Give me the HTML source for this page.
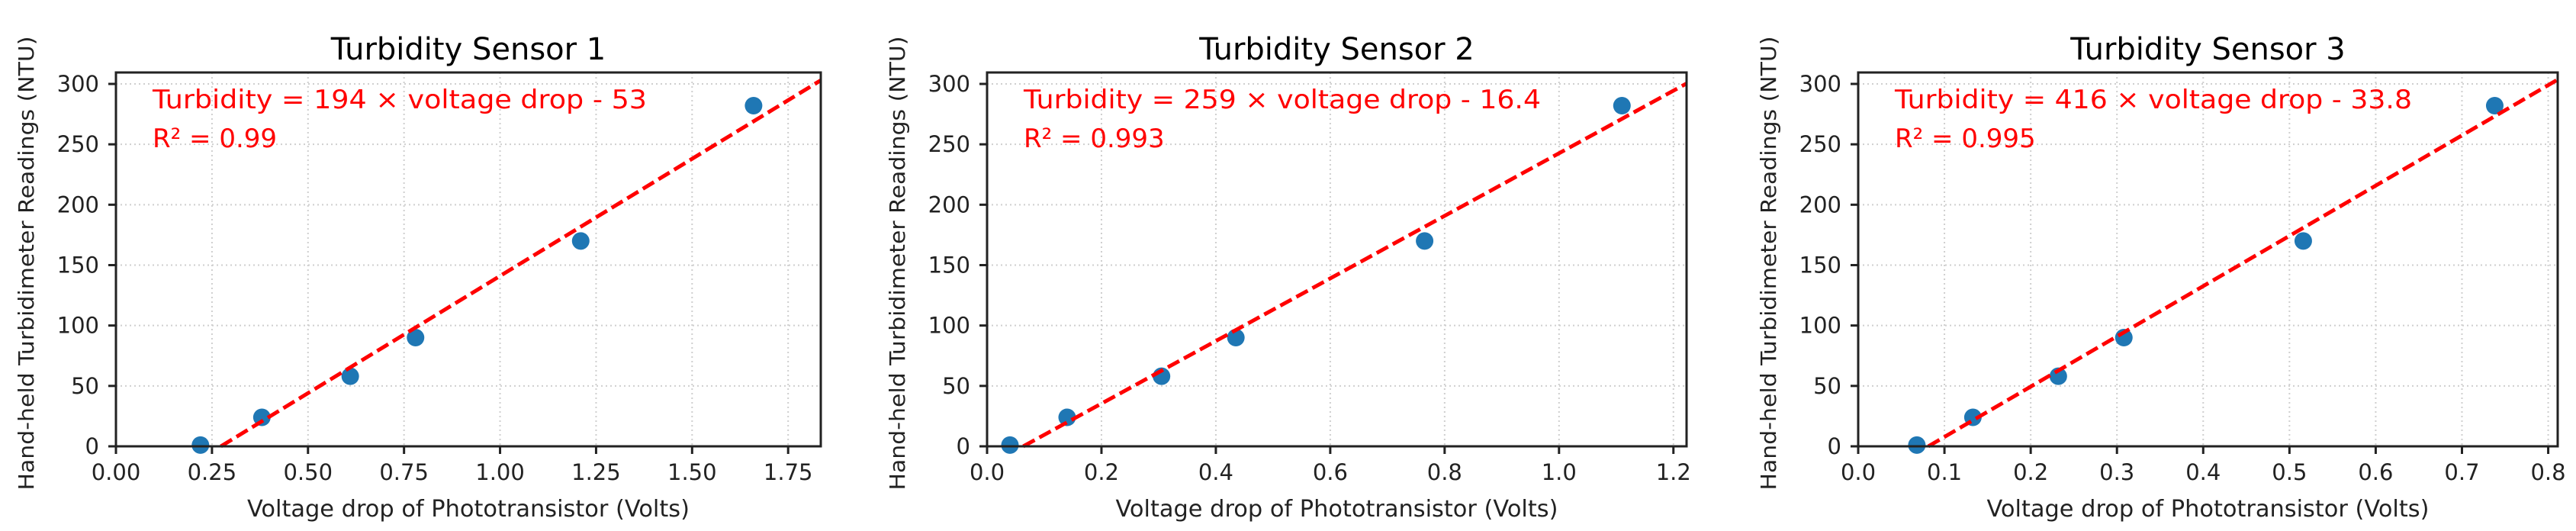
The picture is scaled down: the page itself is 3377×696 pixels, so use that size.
<!DOCTYPE html>
<html><head><meta charset="utf-8"><style>
html,body{margin:0;padding:0;background:#fff}
svg{display:block}
text{font-family:"DejaVu Sans","Liberation Sans",sans-serif}
</style></head><body>
<svg id="fig" width="3377" height="696" viewBox="0 0 3377 696" xmlns="http://www.w3.org/2000/svg"></svg>
<script>
const titles = ["Turbidity Sensor 1","Turbidity Sensor 2","Turbidity Sensor 3"];
const yValues = [1, 24, 58, 90, 170, 282];
const xValues1 = [0.22, 0.38, 0.61, 0.78, 1.21, 1.66];
const xValues2 = [0.04, 0.14, 0.305, 0.435, 0.765, 1.11];
const xValues3 = [0.068, 0.133, 0.232, 0.308, 0.516, 0.738];
const slopes = [194, 259, 416];
const intercepts = [-53, -16.4, -33.8];
const r2Labels = ["0.99","0.993","0.995"];
const eqLabels = ["Turbidity = 194 × voltage drop - 53","Turbidity = 259 × voltage drop - 16.4","Turbidity = 416 × voltage drop - 33.8"];
const xTicks1 = [0,0.25,0.5,0.75,1.0,1.25,1.5,1.75];
const xTickLabels1 = ["0.00","0.25","0.50","0.75","1.00","1.25","1.50","1.75"];
const xTicks2 = [0,0.2,0.4,0.6,0.8,1.0,1.2];
const xTickLabels2 = ["0.0","0.2","0.4","0.6","0.8","1.0","1.2"];
const xTicks3 = [0,0.1,0.2,0.3,0.4,0.5,0.6,0.7,0.8];
const xTickLabels3 = ["0.0","0.1","0.2","0.3","0.4","0.5","0.6","0.7","0.8"];
const yTicks = [0,50,100,150,200,250,300];
const yTickLabels = ["0","50","100","150","200","250","300"];
const xMaxes = [1.835, 1.223, 0.811];

const NS="http://www.w3.org/2000/svg";
const svg=document.getElementById('fig');
function mk(tag,attrs,parent){const e=document.createElementNS(NS,tag);for(const k in attrs)e.setAttribute(k,attrs[k]);(parent||svg).appendChild(e);return e;}

const panels=[
 {L:152,R:1076,xs:xValues1,ticks:xTicks1,labs:xTickLabels1,eqW:648,r2W:245},
 {L:1294,R:2211,xs:xValues2,ticks:xTicks2,labs:xTickLabels2,eqW:678,r2W:195},
 {L:2436,R:3353,xs:xValues3,ticks:xTicks3,labs:xTickLabels3,eqW:678,r2W:195}
];
const TOP=95, Y0=585, Y300=110;
const ymax = 300 + (Y300-TOP)/((Y0-Y300)/300);
panels.forEach((p,i)=>{
  const g=mk('g',{});
  
  
  const xs=v=>p.L+(v/xMaxes[i])*(p.R-p.L);
  const ys=v=>Y0-(v/ymax)*(Y0-TOP);
  p.ticks.forEach(t=>{const l=mk('line',{x1:xs(t),x2:xs(t),y1:TOP,y2:Y0,stroke:'#cfcfcf','stroke-width':2,'stroke-dasharray':'2 4'},g);
    });
  yTicks.forEach(t=>{const l=mk('line',{x1:p.L,x2:p.R,y1:ys(t),y2:ys(t),stroke:'#cfcfcf','stroke-width':2,'stroke-dasharray':'2 4'},g);
    });
  const z=mk('line',{x1:p.L,x2:p.R,y1:ys(0),y2:ys(0),stroke:'#444','stroke-width':2.5,'stroke-dasharray':'10 4'},g);
  
  p.xs.forEach((x,k)=>{const c=mk('circle',{cx:xs(x),cy:ys(yValues[k]),r:11.5,fill:'#1f77b4'},g);
    });
  const x0=Math.max(0,-intercepts[i]/slopes[i]);
  const x1=xMaxes[i];
  const fl=mk('line',{x1:xs(x0),y1:ys(slopes[i]*x0+intercepts[i]),x2:xs(x1),y2:ys(slopes[i]*x1+intercepts[i]),stroke:'#ff0000','stroke-width':5,'stroke-dasharray':'17 7'},g);
  
  const fr=mk('rect',{x:p.L,y:TOP,width:p.R-p.L,height:Y0-TOP,fill:'none',stroke:'#222','stroke-width':3},g);
  
  p.ticks.forEach((t,k)=>{
    const tl=mk('line',{x1:xs(t),x2:xs(t),y1:Y0,y2:Y0+10,stroke:'#222','stroke-width':3},g);
    
    const tx=mk('text',{x:xs(t),y:Y0+44,'font-size':29,'text-anchor':'middle',fill:'#222'},g);
    
    tx.textContent=p.labs[k];
  });
  yTicks.forEach((t,k)=>{
    const tl=mk('line',{x1:p.L-10,x2:p.L,y1:ys(t),y2:ys(t),stroke:'#222','stroke-width':3},g);
    
    const tx=mk('text',{x:p.L-22,y:ys(t)+10,'font-size':29,'text-anchor':'end',fill:'#222'},g);
    
    tx.textContent=yTickLabels[k];
  });
  const cx=(p.L+p.R)/2;
  const tt=mk('text',{x:cx,y:78,'font-size':40,'text-anchor':'middle',fill:'#000'},g);
  
  tt.textContent=titles[i];
  const xl=mk('text',{x:cx,y:677,'font-size':30,'text-anchor':'middle',fill:'#222',textLength:580,lengthAdjust:'spacingAndGlyphs'},g);
  
  xl.textContent='Voltage drop of Phototransistor (Volts)';
  const yl=mk('text',{x:0,y:0,'font-size':28,'text-anchor':'middle',fill:'#222',textLength:595,lengthAdjust:'spacingAndGlyphs',transform:`translate(${p.L-108},${(TOP+Y0)/2+5}) rotate(-90)`},g);
  
  yl.textContent='Hand-held Turbidimeter Readings (NTU)';
  const eq=mk('text',{x:p.L+48,y:142,'font-size':34,fill:'#ff0000',textLength:p.eqW,lengthAdjust:'spacingAndGlyphs'},g);
  
  eq.textContent=eqLabels[i];
  const r2=mk('text',{x:p.L+48,y:193,'font-size':34,fill:'#ff0000'},g);
  
  r2.textContent='R² = '+r2Labels[i];
});
</script>
</body></html>
